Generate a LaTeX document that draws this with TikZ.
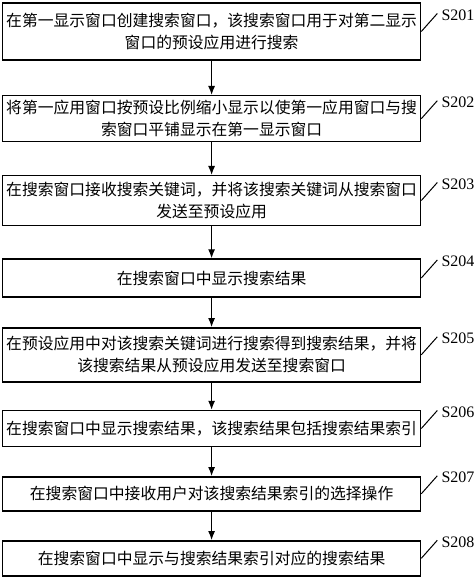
\documentclass[tikz,border=0pt]{standalone}
\usepackage{fontspec}
\setmainfont{Liberation Serif}
\newfontfamily\cjk{Noto Sans CJK SC}
\usetikzlibrary{positioning}
\usetikzlibrary{arrows.meta}
\tikzset{stepbox/.style={draw,
                        line width=1.4pt,
                        minimum width=418pt,
                        inner sep=0pt,
                        align=center,
                        font=\cjk\fontsize{15.8}{22}\selectfont
                        },
        steptag/.style={inner sep=0pt,
                        font=\fontsize{16}{16}\selectfont
        },
        tagline/.style={line width=1pt},
        flow/.style={->,line width=1.2pt},
}

\begin{document}
\begin{tikzpicture}
    [x=1pt,y=-1pt,>={Latex[length=9pt,width=7pt]}]
    \useasboundingbox (0,0) rectangle (474,577);

    % STEPS
    \node[stepbox, minimum height=57pt] (s201) at (211.6,31.5)
        {在第一显示窗口创建搜索窗口，该搜索窗口用于对第二显示\\窗口的预设应用进行搜索};
    \node[stepbox, minimum height=46pt] (s202) at (211.6,118.7)
        {将第一应用窗口按预设比例缩小显示以使第一应用窗口与搜\\索窗口平铺显示在第一显示窗口};
    \node[stepbox, minimum height=49.6pt] (s203) at (211.6,200.5)
        {在搜索窗口接收搜索关键词，并将该搜索关键词从搜索窗口\\发送至预设应用};
    \node[stepbox, minimum height=38pt] (s204) at (211.6,278)
        {在搜索窗口中显示搜索结果};
    \node[stepbox, minimum height=54pt] (s205) at (211.6,354.8)
        {在预设应用中对该搜索关键词进行搜索得到搜索结果，并将\\该搜索结果从预设应用发送至搜索窗口};
    \node[stepbox, minimum height=36pt] (s206) at (211.6,428.5)
        {在搜索窗口中显示搜索结果，该搜索结果包括搜索结果索引};
    \node[stepbox, minimum height=34pt] (s207) at (211.6,493.8)
        {在搜索窗口中接收用户对该搜索结果索引的选择操作};
    \node[stepbox, minimum height=35pt] (s208) at (211.6,558.3)
        {在搜索窗口中显示与搜索结果索引对应的搜索结果};

    % TAGS
    \foreach \n in {201,...,208} {
        \draw[tagline] (s\n.east) -- ++(16,-18) coordinate (t\n);
        \node[steptag, right=4pt of t\n, yshift=-1.5pt] (l\n) {S\n};
    }

    % ARROWS
    \draw[flow] (s201) -- (s202);
    \draw[flow] (s202) -- (s203);
    \draw[flow] (s203) -- (s204);
    \draw[flow] (s204) -- (s205);
    \draw[flow] (s205) -- (s206);
    \draw[flow] (s206) -- (s207);
    \draw[flow] (s207) -- (s208);

\end{tikzpicture}
\end{document}
